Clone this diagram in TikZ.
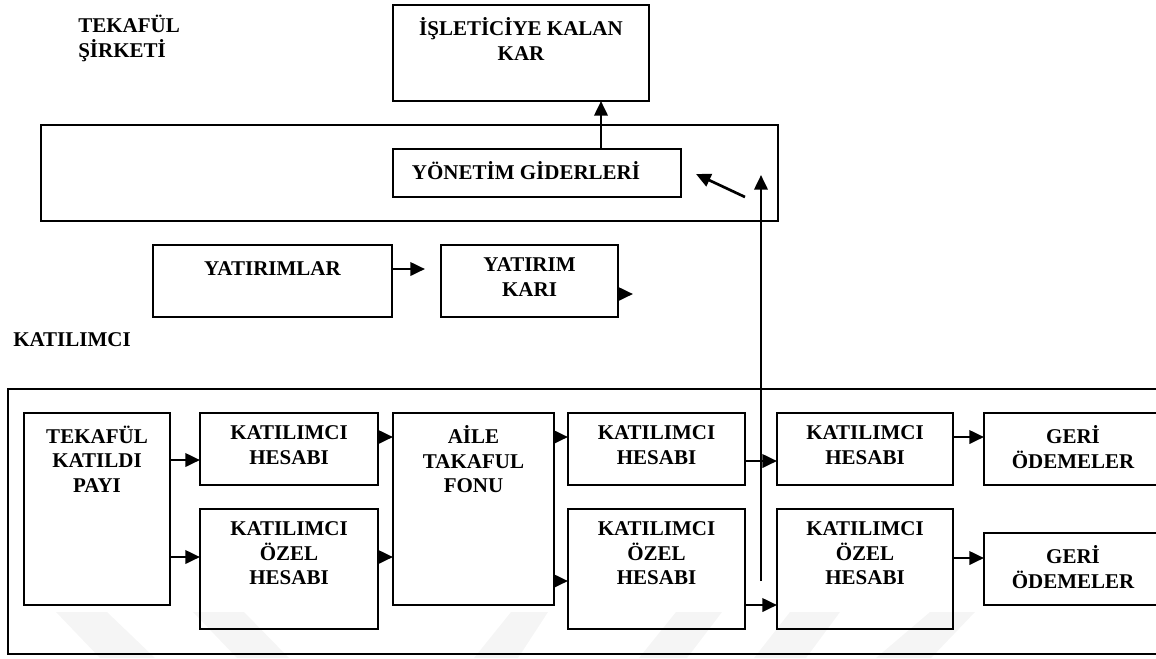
\documentclass[tikz,border=0pt]{standalone}
\usepackage{fontspec}
\setmainfont{Liberation Serif}
\usetikzlibrary{positioning}
\usetikzlibrary{arrows.meta}

\begin{document}
\begin{tikzpicture}[
	x=0.75pt,
	y=-0.75pt,
	font=\fontsize{15.75pt}{18.4pt}\selectfont\bfseries,
	kutu/.style={draw, line width=1.5pt, anchor=north west, inner sep=0pt, outer sep=0pt},
	boyut/.style 2 args={minimum width=#1*0.75pt, minimum height=#2*0.75pt},
	yazi/.style={align=center, inner sep=0pt, execute at begin node={\vphantom{İ}}},
	ok/.style={-{Triangle[length=11pt,width=10pt]}, line width=2pt},
	filigran/.style={fill=black!4, draw=none}]

\def\Ust{9.4pt}

\clip (0,0) rectangle (1156,658);

% faint stripes along the bottom
\fill[filigran] (56,612) -- (107,612) -- (155,658) -- (100,658) -- cycle;
\fill[filigran] (193,612) -- (244,612) -- (289,658) -- (237,658) -- cycle;
\fill[filigran] (511,612) -- (548,612) -- (518,658) -- (474,658) -- cycle;
\fill[filigran] (676,612) -- (722,612) -- (687,658) -- (639,658) -- cycle;
\fill[filigran] (790,612) -- (840,612) -- (806,658) -- (754,658) -- cycle;
\fill[filigran] (930,612) -- (975,612) -- (931,658) -- (876,658) -- cycle;

% Tekaful sirketi
\node[yazi, align=left, anchor=north west] (sirketad) at (78,15) {TEKAFÜL\\ŞİRKETİ};

\node[kutu, boyut={256}{96}] (isletici) at (393,5) {};
\node[yazi, below=\Ust of isletici.north] (isleticiy) {İŞLETİCİYE KALAN\\KAR};

\node[kutu, boyut={737}{96}] (sirket) at (41,125) {};
\node[kutu, boyut={288}{48}] (yonetim) at (393,149) {};
\node[yazi, below right=\Ust and 14pt of yonetim.north west] (yonetimy) {YÖNETİM GİDERLERİ};

\draw[ok] (yonetim.north -| 601,0) -- (isletici.south -| 601,0);

% Yatirimlar
\node[kutu, boyut={239}{72}] (yatirimlar) at (153,245) {};
\node[yazi, below=\Ust of yatirimlar.north] (yatirimlary) {YATIRIMLAR};

\node[kutu, boyut={177}{72}] (yatkari) at (441,245) {};
\node[yazi, below=\Ust of yatkari.north] (yatkariy) {YATIRIM\\KARI};

\draw[ok, shorten >=12pt] (yatirimlar.east |- 0,269) -- (yatkari.west |- 0,269);
\draw[ok] (yatkari.east |- 0,294) -- ++(15,0);

% Katilimci
\node[yazi, align=left, anchor=north west] (katilimciad) at (13,328.5) {KATILIMCI};

\node[kutu, boyut={1162}{265}] (katilimci) at (8,389) {};

\node[kutu, boyut={146}{192}] (tkp) at (24,413) {};
\node[yazi, below=\Ust of tkp.north] (tkpy) {TEKAFÜL\\KATILDI\\PAYI};

\node[kutu, boyut={178}{72}] (kh1) at (200,413) {};
\node[yazi, below=\Ust of kh1.north] (kh1y) {KATILIMCI\\HESABI};
\node[kutu, boyut={178}{120}] (koh1) at (200,509) {};
\node[yazi, below=\Ust of koh1.north] (koh1y) {KATILIMCI\\ÖZEL\\HESABI};

\node[kutu, boyut={161}{192}] (aile) at (393,413) {};
\node[yazi, below=\Ust of aile.north] (ailey) {AİLE\\TAKAFUL\\FONU};

\node[kutu, boyut={177}{72}] (kh2) at (568,413) {};
\node[yazi, below=\Ust of kh2.north] (kh2y) {KATILIMCI\\HESABI};
\node[kutu, boyut={177}{120}] (koh2) at (568,509) {};
\node[yazi, below=\Ust of koh2.north] (koh2y) {KATILIMCI\\ÖZEL\\HESABI};

\node[kutu, boyut={176}{72}] (kh3) at (777,413) {};
\node[yazi, below=\Ust of kh3.north] (kh3y) {KATILIMCI\\HESABI};
\node[kutu, boyut={176}{120}] (koh3) at (777,509) {};
\node[yazi, below=\Ust of koh3.north] (koh3y) {KATILIMCI\\ÖZEL\\HESABI};

\node[kutu, boyut={178}{72}] (geri1) at (984,413) {};
\node[yazi, below=\Ust of geri1.north] (geri1y) {GERİ\\ÖDEMELER};
\node[kutu, boyut={178}{72}] (geri2) at (984,533) {};
\node[yazi, below=\Ust of geri2.north] (geri2y) {GERİ\\ÖDEMELER};

% flows between the accounts
\draw[ok] (tkp.east |- 0,460) -- (kh1.west |- 0,460);
\draw[ok] (tkp.east |- 0,557) -- (koh1.west |- 0,557);
\draw[ok] (kh1.east |- 0,437) -- (aile.west |- 0,437);
\draw[ok] (koh1.east |- 0,557) -- (aile.west |- 0,557);
\draw[ok] (aile.east |- 0,437) -- (kh2.west |- 0,437);
\draw[ok] (aile.east |- 0,581) -- (koh2.west |- 0,581);
\draw[ok] (kh2.east |- 0,461) -- (kh3.west |- 0,461);
\draw[ok] (koh2.east |- 0,605) -- (koh3.west |- 0,605);
\draw[ok] (kh3.east |- 0,437) -- (geri1.west |- 0,437);
\draw[ok] (koh3.east |- 0,558) -- (geri2.west |- 0,558);

% up to the company
\coordinate (dikalt) at (761,581);
\coordinate (dikust) at (761,175);
\draw[ok] (dikalt) -- (dikust);

\coordinate (capraz) at (745,197);
\coordinate (caprazuc) at (696,174);
\draw[ok] (capraz) -- (caprazuc);

\end{tikzpicture}
\end{document}
